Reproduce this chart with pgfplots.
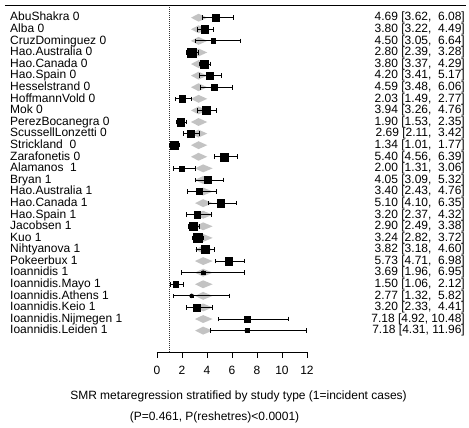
\documentclass[border=0pt]{standalone}
\usepackage{pgfplots}
\pgfplotsset{compat=1.18}
\usepackage{pgfplotstable}
\usepackage{fontspec}
\setmainfont{Liberation Sans}
\definecolor{pgray}{RGB}{195,195,195}

\pgfplotstableread{
y est lo hi s
-1 4.69 3.62 6.08 3.45
-2 3.80 3.22 4.49 3.65
-3 4.50 3.05 6.64 2.3
-4 2.80 2.39 3.28 4.65
-5 3.80 3.37 4.29 3.95
-6 4.20 3.41 5.17 3.65
-7 4.59 3.48 6.06 2.95
-8 2.03 1.49 2.77 3.15
-9 3.94 3.26 4.76 3.8
-10 1.90 1.53 2.35 3.8
-11 2.69 2.11 3.42 3.45
-12 1.34 1.01 1.77 3.95
-13 5.40 4.56 6.39 3.95
-14 2.00 1.31 3.06 2.65
-15 4.05 3.09 5.32 3.45
-16 3.40 2.43 4.76 3.15
-17 5.10 4.10 6.35 3.65
-18 3.20 2.37 4.32 3.3
-19 2.90 2.49 3.38 3.95
-20 3.24 2.82 3.72 4.3
-21 3.82 3.18 4.60 3.95
-22 5.73 4.71 6.98 3.8
-23 3.69 1.96 6.95 1.65
-24 1.50 1.06 2.12 2.8
-25 2.77 1.32 5.82 1.15
-26 3.20 2.33 4.41 3.45
-27 7.18 4.92 10.48 2.95
-28 7.18 4.31 11.96 1.95
}\data

\newcommand\dia[4]{\addplot[fill=pgray, draw=none, forget plot] table[row sep=\\, x=x, y expr=\thisrow{d}-#1] {x d\\ #2 0\\ #3 0.34\\ #4 0\\ #3 -0.34\\} -- cycle;}
\newcommand\lrow[3]{%
\node[anchor=base west, inner sep=0pt, yshift=-3.3pt] at (axis cs:-11.76,-#1) {#2};
\node[anchor=base east, inner sep=0pt, yshift=-3.3pt] at (axis cs:24.64,-#1) {#3};}

\begin{document}
\fontsize{12}{14}\selectfont
\begin{tikzpicture}
\begin{axis}[
  x=12.5pt, y=11.59pt,
  xmin=0, xmax=12, ymin=-29.844, ymax=0.527,
  axis x line*=bottom, axis y line=none,
  clip=false,
  xtick={0,2,4,6,8,10,12},
  tick align=outside,
  major tick length=6pt,
  axis line style={black, line width=0.8pt},
  tick style={black, line width=0.8pt},
  xticklabel style={yshift=-4pt},
  /pgf/number format/assume math mode=true,
]
\path (axis cs:-12.56,0.527) rectangle (axis cs:24.96,-36.40);
% top rule
\addplot[black, line width=1pt, forget plot] coordinates {(-12.16,0.0526) (24.72,0.0526)};
% predicted diamonds
\dia{1}{2.72}{3.32}{4.02}
\dia{2}{2.72}{3.32}{4.02}
\dia{3}{2.72}{3.32}{4.02}
\dia{4}{2.72}{3.32}{4.02}
\dia{5}{2.72}{3.32}{4.02}
\dia{6}{2.72}{3.32}{4.02}
\dia{7}{2.72}{3.32}{4.02}
\dia{8}{2.72}{3.32}{4.02}
\dia{9}{2.72}{3.32}{4.02}
\dia{10}{2.72}{3.32}{4.02}
\dia{11}{2.72}{3.32}{4.02}
\dia{12}{2.72}{3.32}{4.02}
\dia{13}{2.72}{3.32}{4.02}
\dia{14}{3.04}{3.69}{4.45}
\dia{15}{3.04}{3.69}{4.45}
\dia{16}{3.04}{3.69}{4.45}
\dia{17}{3.04}{3.69}{4.45}
\dia{18}{3.04}{3.69}{4.45}
\dia{19}{3.04}{3.69}{4.45}
\dia{20}{3.04}{3.69}{4.45}
\dia{21}{3.04}{3.69}{4.45}
\dia{22}{3.04}{3.69}{4.45}
\dia{23}{3.04}{3.69}{4.45}
\dia{24}{3.04}{3.69}{4.45}
\dia{25}{3.04}{3.69}{4.45}
\dia{26}{3.04}{3.69}{4.45}
\dia{27}{3.04}{3.69}{4.45}
\dia{28}{3.04}{3.69}{4.45}
% reference line
\addplot[black!80, line width=0.6pt, dash pattern=on 0.7pt off 1.3pt, forget plot] coordinates {(1,-0.1) (1,-29.844)};
% confidence intervals
\addplot[only marks, mark=none, forget plot,
  error bars/.cd, x dir=both, x explicit, error mark=|,
  error bar style={black, line width=0.75pt, solid},
  error mark options={black, line width=0.75pt, mark size=2.3pt}]
  table[x=est, y=y, x error plus expr=\thisrow{hi}-\thisrow{est}, x error minus expr=\thisrow{est}-\thisrow{lo}] \data;
% boxes
\addplot[scatter, only marks, mark=square*, line width=0.4pt,
  scatter/use mapped color={draw=black, fill=black},
  visualization depends on={\thisrow{s}\as\perpointmarksize},
  scatter/@pre marker code/.append style={/tikz/mark size=\perpointmarksize}]
  table[x=est, y=y] \data;
% labels
\lrow{1}{AbuShakra 0}{4.69 [3.62,~~6.08]}
\lrow{2}{Alba 0}{3.80 [3.22,~~4.49]}
\lrow{3}{CruzDominguez 0}{4.50 [3.05,~~6.64]}
\lrow{4}{Hao.Australia 0}{2.80 [2.39,~~3.28]}
\lrow{5}{Hao.Canada 0}{3.80 [3.37,~~4.29]}
\lrow{6}{Hao.Spain 0}{4.20 [3.41,~~5.17]}
\lrow{7}{Hesselstrand 0}{4.59 [3.48,~~6.06]}
\lrow{8}{HoffmannVold 0}{2.03 [1.49,~~2.77]}
\lrow{9}{Mok 0}{3.94 [3.26,~~4.76]}
\lrow{10}{PerezBocanegra 0}{1.90 [1.53,~~2.35]}
\lrow{11}{ScussellLonzetti 0}{2.69 [2.11,~~3.42]}
\lrow{12}{Strickland~~0}{1.34 [1.01,~~1.77]}
\lrow{13}{Zarafonetis 0}{5.40 [4.56,~~6.39]}
\lrow{14}{Alamanos~~1}{2.00 [1.31,~~3.06]}
\lrow{15}{Bryan 1}{4.05 [3.09,~~5.32]}
\lrow{16}{Hao.Australia 1}{3.40 [2.43,~~4.76]}
\lrow{17}{Hao.Canada 1}{5.10 [4.10,~~6.35]}
\lrow{18}{Hao.Spain 1}{3.20 [2.37,~~4.32]}
\lrow{19}{Jacobsen 1}{2.90 [2.49,~~3.38]}
\lrow{20}{Kuo 1}{3.24 [2.82,~~3.72]}
\lrow{21}{Nihtyanova 1}{3.82 [3.18,~~4.60]}
\lrow{22}{Pokeerbux 1}{5.73 [4.71,~~6.98]}
\lrow{23}{Ioannidis 1}{3.69 [1.96,~~6.95]}
\lrow{24}{Ioannidis.Mayo 1}{1.50 [1.06,~~2.12]}
\lrow{25}{Ioannidis.Athens 1}{2.77 [1.32,~~5.82]}
\lrow{26}{Ioannidis.Keio 1}{3.20 [2.33,~~4.41]}
\lrow{27}{Ioannidis.Nijmegen 1}{7.18 [4.92, 10.48]}
\lrow{28}{Ioannidis.Leiden 1}{7.18 [4.31, 11.96]}
\node[anchor=base, inner sep=0pt] at (axis cs:6.52,-33.985) {SMR metaregression stratified by study type (1=incident cases)};
\node[anchor=base, inner sep=0pt] at (axis cs:4.6,-35.754) {(P=0.461, P(reshetres)<0.0001)};
\end{axis}
\end{tikzpicture}
\end{document}
